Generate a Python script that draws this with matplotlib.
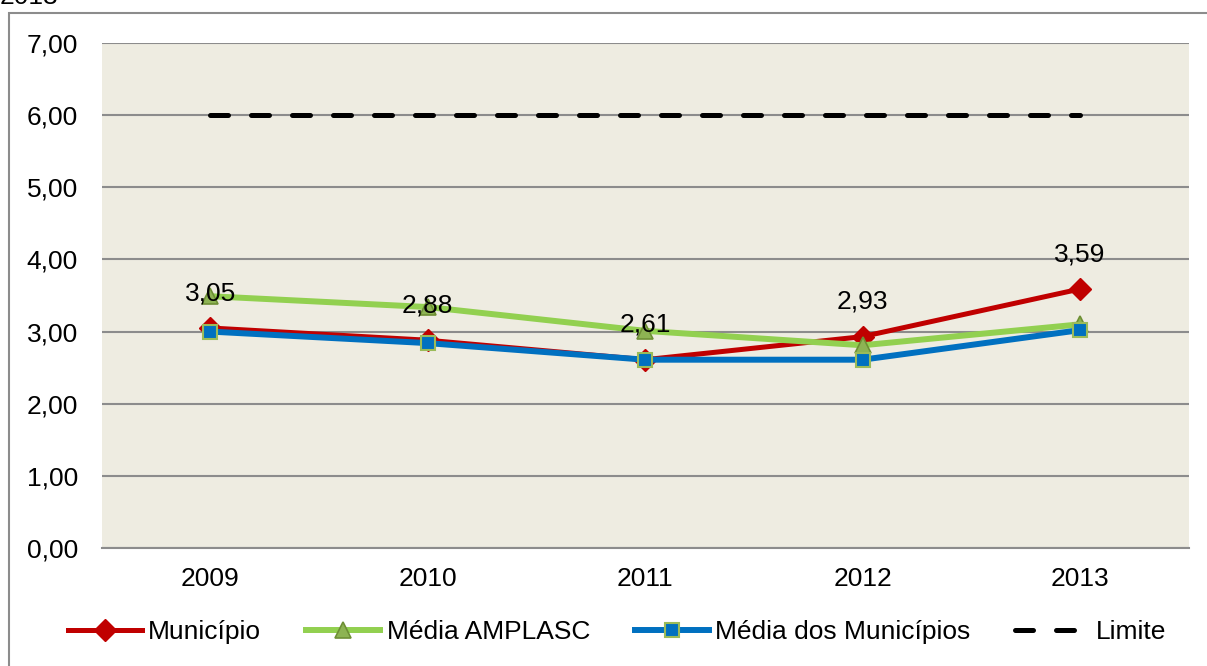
import matplotlib
matplotlib.use("Agg")
import matplotlib.pyplot as plt
from matplotlib.patches import Rectangle

plt.rcParams['font.family'] = ['Liberation Sans', 'DejaVu Sans']

anos = ['2009', '2010', '2011', '2012', '2013']
municipio = [3.05, 2.88, 2.61, 2.93, 3.59]
media_amplasc = [3.49, 3.34, 3.01, 2.81, 3.10]
media_municipios = [3.00, 2.84, 2.61, 2.61, 3.02]
limite = [6.00, 6.00, 6.00, 6.00, 6.00]
rotulos = ['3,05', '2,88', '2,61', '2,93', '3,59']
yticks = [0, 1, 2, 3, 4, 5, 6, 7]

W, H = 1207, 666
fig = plt.figure(figsize=(W / 100, H / 100), dpi=100)
fs = 19

# moldura do grafico
fig.patches.append(Rectangle((9 / W, -0.1), 1.2, 1 - 13 / H + 0.1, transform=fig.transFigure,
                             fill=False, edgecolor='#8c8c8c', linewidth=1.5))
fig.text(0.0, 1 - 4 / H, '2013', fontsize=fs, va='baseline', ha='left')

ax = fig.add_axes([101.5 / W, (H - 548) / H, (1188.7 - 101.5) / W, (548 - 43) / H])
ax.set_facecolor('#EEECE1')
x = list(range(len(anos)))

ax.plot(x, municipio, color='#C00000', lw=3.6, marker='D', ms=11,
        mfc='#C00000', mec='#C00000', label='Município', zorder=3)
ax.plot(x, media_amplasc, color='#92D050', lw=4.3, marker='^', ms=11,
        mfc='#8DB353', mec='#6E8F35', mew=1.2, label='Média AMPLASC', zorder=4)
ax.plot(x, media_municipios, color='#0070C0', lw=4.3, marker='s', ms=10.5,
        mfc='#0070C0', mec='#9BBB59', mew=1.5, label='Média dos Municípios', zorder=5)
ax.plot(x, limite, color='black', lw=3.6, dashes=(3.6, 4.6), dash_capstyle='round',
        label='Limite', zorder=6)

for xi, yi, t in zip(x, municipio, rotulos):
    ax.annotate(t, (xi, yi), xytext=(0, 25), textcoords='offset points',
                ha='center', va='center', fontsize=fs, zorder=7)

ax.set_xlim(-0.5, len(anos) - 0.5)
ax.set_ylim(0, 7)
ax.set_xticks(x)
ax.set_xticklabels(anos)
ax.set_yticks(yticks)
ax.set_yticklabels(['%d,00' % v for v in yticks])
ax.tick_params(length=0, labelsize=fs, pad=14)
ax.tick_params(axis='y', pad=17)
ax.grid(axis='y', color='#8c8c8c', lw=1.5, zorder=1)
ax.set_axisbelow(True)
for s in ['left', 'right', 'top']:
    ax.spines[s].set_visible(False)
ax.spines['bottom'].set_color('#8c8c8c')
ax.spines['bottom'].set_linewidth(1.5)

fig.legend(loc='center', bbox_to_anchor=(617 / W, 1 - 632 / H), ncol=4, frameon=False,
           fontsize=fs, handlelength=2.8, handletextpad=0.25, columnspacing=1.7)

fig.savefig('out.png', dpi=100)
